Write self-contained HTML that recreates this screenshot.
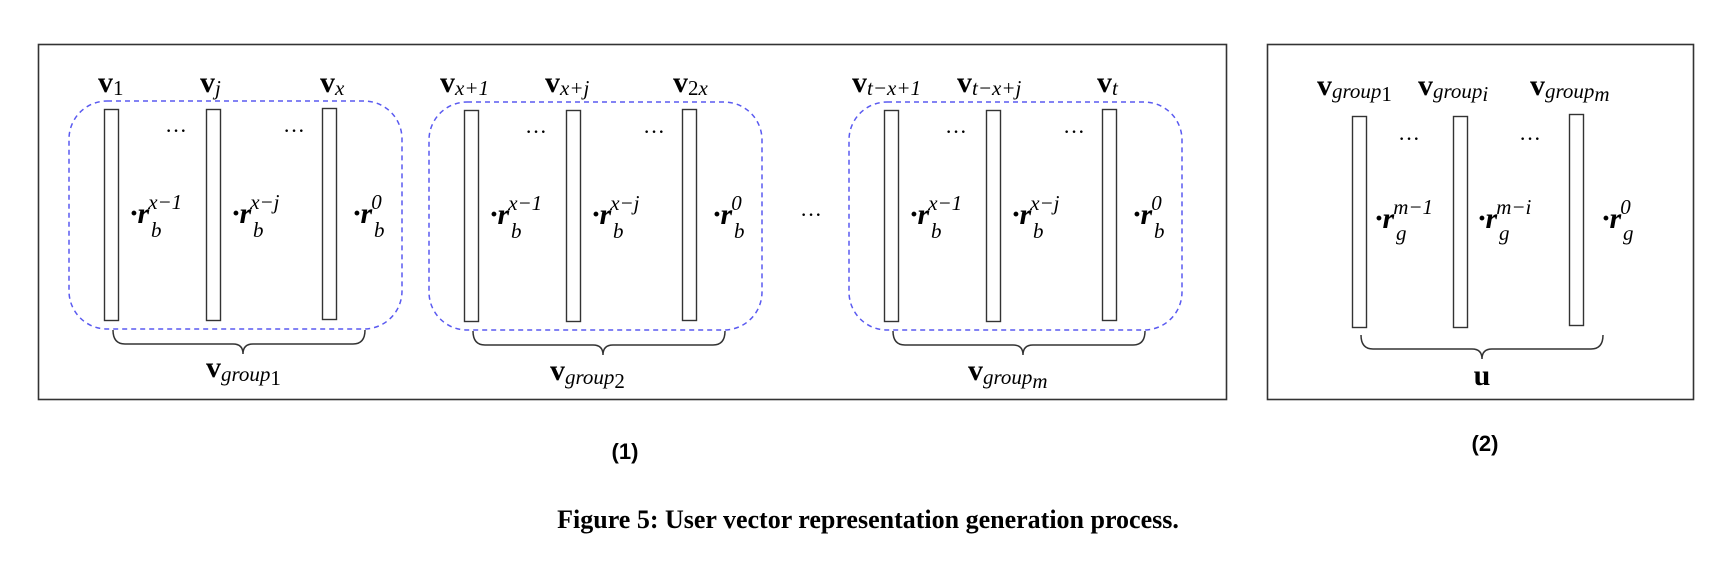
<!DOCTYPE html>
<html><head><meta charset="utf-8"><style>
body{margin:0;background:#fff;}
svg{display:block;}
.v{font-family:"Liberation Serif",serif;font-weight:bold;font-size:30px;}
.i{font-family:"Liberation Serif",serif;font-style:italic;font-weight:bold;font-size:30px;}
.s{font-family:"Liberation Serif",serif;font-style:italic;font-weight:normal;font-size:21px;}
.n{font-family:"Liberation Serif",serif;font-weight:normal;font-size:21px;}
.d{font-family:"Liberation Serif",serif;font-size:22px;}
</style></head><body>
<svg width="1734" height="566" viewBox="0 0 1734 566" xmlns="http://www.w3.org/2000/svg">
<rect x="38.5" y="44.5" width="1188" height="355" fill="none" stroke="#333" stroke-width="1.6"/>
<rect x="1267.5" y="44.5" width="426" height="355" fill="none" stroke="#333" stroke-width="1.6"/>

<defs>
<g id="grp">
<rect x="0" y="0" width="333" height="228" rx="38" fill="none" stroke="#5a5af0" stroke-width="1.5" stroke-dasharray="5,4"/>
<rect x="35.5" y="8.5" width="14" height="211" fill="#fff" stroke="#333" stroke-width="1.4"/>
<rect x="137.5" y="8.5" width="14" height="211" fill="#fff" stroke="#333" stroke-width="1.4"/>
<rect x="253.5" y="7.5" width="14" height="211" fill="#fff" stroke="#333" stroke-width="1.4"/>
<text x="96" y="37" class="d">···</text>
<text x="214" y="37" class="d">···</text>
<path d="M44 229 q0 14 12 14 h108 q10 0 10 10 q0 -10 10 -10 h100 q12 0 12 -14" fill="none" stroke="#333" stroke-width="1.5"/>
</g>
</defs>

<!-- group 1 -->
<g transform="translate(69,101)"><use href="#grp"/></g>
<text x="98" y="92" class="v">v<tspan class="n" dy="3">1</tspan></text>
<text x="200" y="92" class="v">v<tspan class="s" dy="3">j</tspan></text>
<text x="320" y="92" class="v">v<tspan class="s" dy="3">x</tspan></text>
<text x="130" y="223" class="i">·r<tspan class="s" dx="-1" dy="-14">x−1</tspan></text><text x="151" y="237" class="s">b</text>
<text x="232" y="223" class="i">·r<tspan class="s" dx="-1" dy="-14">x−j</tspan></text><text x="253" y="237" class="s">b</text>
<text x="353" y="223" class="i">·r<tspan class="n" dx="-1" dy="-14">0</tspan></text><text x="374" y="237" class="s">b</text>
<text x="206" y="377" class="v">v<tspan class="s" dy="4">group</tspan><tspan class="n" font-size="14" dy="4">1</tspan></text>

<!-- group 2 -->
<g transform="translate(429,102)"><use href="#grp"/></g>
<text x="440" y="92" class="v">v<tspan class="s" dy="3">x+1</tspan></text>
<text x="545" y="92" class="v">v<tspan class="s" dy="3">x+j</tspan></text>
<text x="673" y="92" class="v">v<tspan class="n" dy="3">2</tspan><tspan class="s">x</tspan></text>
<text x="490" y="224" class="i">·r<tspan class="s" dx="-1" dy="-14">x−1</tspan></text><text x="511" y="238" class="s">b</text>
<text x="592" y="224" class="i">·r<tspan class="s" dx="-1" dy="-14">x−j</tspan></text><text x="613" y="238" class="s">b</text>
<text x="713" y="224" class="i">·r<tspan class="n" dx="-1" dy="-14">0</tspan></text><text x="734" y="238" class="s">b</text>
<text x="550" y="380" class="v">v<tspan class="s" dy="4">group</tspan><tspan class="n" font-size="14" dy="4">2</tspan></text>

<text x="800" y="222" class="d">···</text>

<!-- group m -->
<g transform="translate(849,102)"><use href="#grp"/></g>
<text x="852" y="92" class="v">v<tspan class="s" dy="3">t−x+1</tspan></text>
<text x="957" y="92" class="v">v<tspan class="s" dy="3">t−x+j</tspan></text>
<text x="1097" y="92" class="v">v<tspan class="s" dy="3">t</tspan></text>
<text x="910" y="224" class="i">·r<tspan class="s" dx="-1" dy="-14">x−1</tspan></text><text x="931" y="238" class="s">b</text>
<text x="1012" y="224" class="i">·r<tspan class="s" dx="-1" dy="-14">x−j</tspan></text><text x="1033" y="238" class="s">b</text>
<text x="1133" y="224" class="i">·r<tspan class="n" dx="-1" dy="-14">0</tspan></text><text x="1154" y="238" class="s">b</text>
<text x="968" y="380" class="v">v<tspan class="s" dy="4">group</tspan><tspan class="s" font-size="14" dy="4">m</tspan></text>

<!-- box 2 -->
<rect x="1352.5" y="116.5" width="14" height="211" fill="#fff" stroke="#333" stroke-width="1.4"/>
<rect x="1453.5" y="116.5" width="14" height="211" fill="#fff" stroke="#333" stroke-width="1.4"/>
<rect x="1569.5" y="114.5" width="14" height="211" fill="#fff" stroke="#333" stroke-width="1.4"/>
<text x="1317" y="95" class="v">v<tspan class="s" dy="3">group</tspan><tspan class="n" font-size="14" dy="3">1</tspan></text>
<text x="1418" y="95" class="v">v<tspan class="s" dy="3">group</tspan><tspan class="s" font-size="14" dy="3">i</tspan></text>
<text x="1530" y="95" class="v">v<tspan class="s" dy="3">group</tspan><tspan class="s" font-size="14" dy="3">m</tspan></text>
<text x="1398" y="146" class="d">···</text>
<text x="1519" y="146" class="d">···</text>
<text x="1375" y="228" class="i">·r<tspan class="s" dx="-1" dy="-14">m−1</tspan></text><text x="1396" y="240" class="s">g</text>
<text x="1478" y="228" class="i">·r<tspan class="s" dx="-1" dy="-14">m−i</tspan></text><text x="1499" y="240" class="s">g</text>
<text x="1602" y="228" class="i">·r<tspan class="n" dx="-1" dy="-14">0</tspan></text><text x="1623" y="240" class="s">g</text>
<path d="M1361 335 q0 14 12 14 h99 q10 0 10 10 q0 -10 10 -10 h99 q12 0 12 -14" fill="none" stroke="#333" stroke-width="1.5"/>
<text x="1482" y="385" class="v" text-anchor="middle">u</text>

<text x="625" y="459" font-family="Liberation Sans, sans-serif" font-weight="bold" font-size="22" text-anchor="middle">(1)</text>
<text x="1485" y="451" font-family="Liberation Sans, sans-serif" font-weight="bold" font-size="22" text-anchor="middle">(2)</text>
<text x="868" y="528" font-family="Liberation Serif, serif" font-weight="bold" font-size="26" text-anchor="middle">Figure 5: User vector representation generation process.</text>
</svg>
</body></html>
